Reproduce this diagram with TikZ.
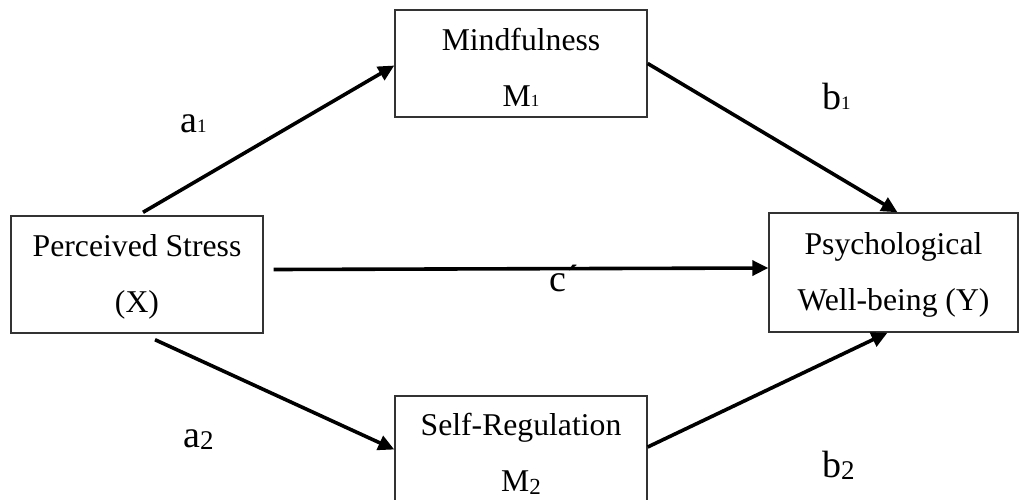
\documentclass[tikz,border=0pt]{standalone}
\usepackage{fontspec}
\setmainfont{Liberation Serif}
\usetikzlibrary{arrows.meta}
\newcommand\subA[1]{{\fontsize{17}{17}\selectfont #1}}
\newcommand\subB[1]{\raisebox{-3pt}{\fontsize{23}{23}\selectfont #1}}
\tikzset{
  boxnode/.style={draw=black!80, line width=1.4pt, rectangle, inner sep=0pt, align=center,
    font=\fontsize{31.7}{56}\selectfont},
  arr/.style={line width=3.6pt, -{Triangle[length=16pt,width=15pt]}},
  lbl/.style={anchor=base west, inner sep=0pt, font=\fontsize{38}{38}\selectfont},
}
\begin{document}
\begin{tikzpicture}[x=1pt,y=-1pt]
\clip (0,0) rectangle (1020,499);
\node[boxnode, minimum width=252pt, minimum height=117pt] (X) at (137,274.5)
  {\rule{0pt}{40pt}Perceived Stress\\(X)\rule[-21pt]{0pt}{21pt}};
\node[boxnode, minimum width=252pt, minimum height=107pt] (M1) at (521,63.5)
  {\rule{0pt}{40pt}Mindfulness\\M\subA{1}\rule[-11pt]{0pt}{11pt}};
\node[boxnode, minimum width=252pt, minimum height=107pt] (M2) at (521,449.5)
  {\rule{0pt}{39pt}Self-Regulation\\M\subB{2}\rule[-12pt]{0pt}{12pt}};
\node[boxnode, minimum width=249pt, minimum height=119pt] (Y) at (893.5,272.5)
  {\rule{0pt}{41pt}Psychological\\Well-being (Y)\rule[-22pt]{0pt}{22pt}};

\draw[arr] ([xshift=6pt,yshift=3pt]X.north) -- ([yshift=-2pt]M1.west);
\draw[arr] (M1.east) -- ([xshift=4pt]Y.north);
\draw[arr] ([xshift=10pt,yshift=5pt]X.east) -- ([yshift=4.5pt]Y.west);
\draw[arr] ([xshift=18pt,yshift=-6pt]X.south) -- (M2.west);
\draw[arr] ([yshift=2.5pt]M2.east) -- ([xshift=-6pt]Y.south);

\node[lbl] (la1) at (180,132) {a{\fontsize{19}{19}\selectfont 1}};
\node[lbl] (lb1) at (822,109) {b{\fontsize{19}{19}\selectfont 1}};
\node[lbl] (lc) at (549,291) {c´};
\node[lbl] (la2) at (183,447) {a\raisebox{-2pt}{\fontsize{27}{27}\selectfont 2}};
\node[lbl] (lb2) at (822,477) {b\raisebox{-2pt}{\fontsize{27}{27}\selectfont 2}};
\end{tikzpicture}
\end{document}
